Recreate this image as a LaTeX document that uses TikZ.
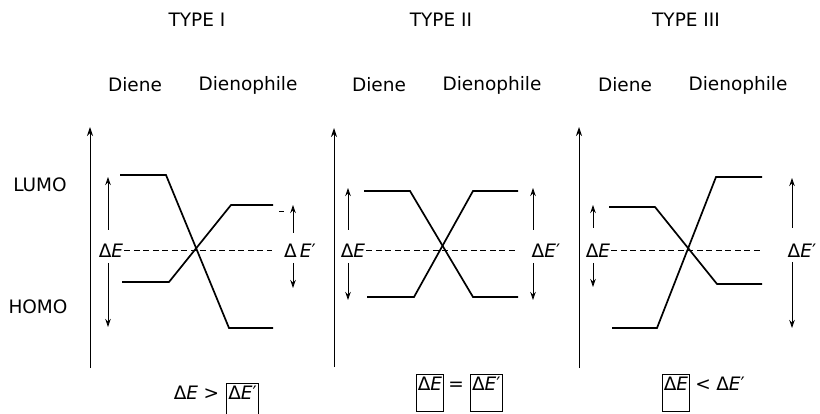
\documentclass[tikz,border=0pt]{standalone}
\usepackage{fontspec}
\setmainfont{DejaVu Sans}
\usetikzlibrary{positioning,arrows.meta}
\begin{document}
\begin{tikzpicture}[x=1pt,y=-1pt,every node/.style={font=\fontsize{18.5}{22}\selectfont,inner sep=1pt}]
            \tikzstyle{axis}=[line width=1pt,-{Stealth[length=9pt,width=6pt]}]
            \tikzstyle{level}=[line width=1.7pt]
            \tikzstyle{gap}=[line width=0.9pt,-{Stealth[length=8pt,width=5.5pt]}]
            \tikzstyle{mid}=[line width=1pt,dash pattern=on 6pt off 3.5pt]
            \tikzstyle{boxed}=[draw,line width=1pt,inner sep=1.5pt,text height=14.5pt,text depth=20pt]
            \useasboundingbox (0,0) rectangle (820,414);
            \clip (0,0) rectangle (820,414);

            % headings
            \node (t1) at (197,20) {TYPE I};
            \node (t2) at (441,20) {TYPE II};
            \node (t3) at (686,20) {TYPE III};
            \node (d1) at (135,85) {Diene};
            \node (p1) at (248,85) {Dienophile};
            \node (d2) at (379,85) {Diene};
            \node (p2) at (492,85) {Dienophile};
            \node (d3) at (625,85) {Diene};
            \node (p3) at (738,85) {Dienophile};
            \node (lumo) at (40,185) {LUMO};
            \node (homo) at (38,307) {HOMO};

            % type I
            \coordinate (o1) at (90,368);
            \coordinate (y1) at (90,127);
            \draw[axis] (o1) -- (y1);
            \coordinate (la1) at (120,175);
            \coordinate (lb1) at (166,175);
            \coordinate (lc1) at (229,328);
            \coordinate (ld1) at (273,328);
            \draw[level] (la1) -- (lb1) -- (lc1) -- (ld1);
            \coordinate (ha1) at (122,282);
            \coordinate (hb1) at (169,282);
            \coordinate (hc1) at (231,205);
            \coordinate (hd1) at (273,205);
            \draw[level] (ha1) -- (hb1) -- (hc1) -- (hd1);
            \node (e1) at (111,251) {Δ\textit{E}};
            \coordinate (m1) at (272,251);
            \draw[mid] (e1.east) -- (m1);
            \coordinate (eu1) at (108,230);
            \coordinate (et1) at (108,177);
            \coordinate (ed1) at (108,263);
            \coordinate (eb1) at (108,327);
            \draw[gap] (eu1) -- (et1);
            \draw[gap] (ed1) -- (eb1);
            \node (f1) at (300,251) {Δ\,\textit{E}′};
            \coordinate (fu1) at (293,233);
            \coordinate (ft1) at (293,205);
            \coordinate (fd1) at (293,263);
            \coordinate (fb1) at (293,288);
            \draw[gap] (fu1) -- (ft1);
            \draw[gap] (fd1) -- (fb1);
            \coordinate (k1) at (279,211);
            \coordinate (k2) at (284,211);
            \draw[line width=0.8pt] (k1) -- (k2);
            \node (r1a) at (186,393) {Δ\textit{E}};
            \node (r1b) [base right=3pt of r1a] {>};
            \node[boxed] (r1c) [base right=6pt of r1b] {Δ\textit{E}′};

            % type II
            \coordinate (o2) at (334,367);
            \coordinate (y2) at (334,128);
            \draw[axis] (o2) -- (y2);
            \coordinate (la2) at (364,191);
            \coordinate (lb2) at (410,191);
            \coordinate (lc2) at (473,297);
            \coordinate (ld2) at (518,297);
            \draw[level] (la2) -- (lb2) -- (lc2) -- (ld2);
            \coordinate (ha2) at (367,297);
            \coordinate (hb2) at (414,297);
            \coordinate (hc2) at (473,191);
            \coordinate (hd2) at (518,191);
            \draw[level] (ha2) -- (hb2) -- (hc2) -- (hd2);
            \node (e2) at (353,251) {Δ\textit{E}};
            \coordinate (m2) at (518,251);
            \draw[mid] (e2.east) -- (m2);
            \coordinate (eu2) at (348,230);
            \coordinate (et2) at (348,188);
            \coordinate (ed2) at (348,263);
            \coordinate (eb2) at (348,300);
            \draw[gap] (eu2) -- (et2);
            \draw[gap] (ed2) -- (eb2);
            \node (f2) at (546,251) {Δ\textit{E}′};
            \coordinate (fu2) at (533,230);
            \coordinate (ft2) at (533,188);
            \coordinate (fd2) at (533,263);
            \coordinate (fb2) at (533,300);
            \draw[gap] (fu2) -- (ft2);
            \draw[gap] (fd2) -- (fb2);
            \node[boxed] (r2a) at (430,393) {Δ\textit{E}};
            \node (r2b) [base right=3pt of r2a] {=};
            \node[boxed] (r2c) [base right=5pt of r2b] {Δ\textit{E}′};

            % type III
            \coordinate (o3) at (579,368);
            \coordinate (y3) at (579,127);
            \draw[axis] (o3) -- (y3);
            \coordinate (la3) at (609,207);
            \coordinate (lb3) at (655,207);
            \coordinate (lc3) at (717,284);
            \coordinate (ld3) at (762,284);
            \draw[level] (la3) -- (lb3) -- (lc3) -- (ld3);
            \coordinate (ha3) at (612,328);
            \coordinate (hb3) at (657,328);
            \coordinate (hc3) at (716,177);
            \coordinate (hd3) at (762,177);
            \draw[level] (ha3) -- (hb3) -- (hc3) -- (hd3);
            \node (e3) at (598,251) {Δ\textit{E}};
            \coordinate (m3) at (762,251);
            \draw[mid] (e3.east) -- (m3);
            \coordinate (eu3) at (593,228);
            \coordinate (et3) at (593,205);
            \coordinate (ed3) at (593,263);
            \coordinate (eb3) at (593,287);
            \draw[gap] (eu3) -- (et3);
            \draw[gap] (ed3) -- (eb3);
            \node (f3) at (802,251) {Δ\textit{E}′};
            \coordinate (fu3) at (792,228);
            \coordinate (ft3) at (792,178);
            \coordinate (fd3) at (792,262);
            \coordinate (fb3) at (792,328);
            \draw[gap] (fu3) -- (ft3);
            \draw[gap] (fd3) -- (fb3);
            \node[boxed] (r3a) at (676,393) {Δ\textit{E}};
            \node (r3b) [base right=4pt of r3a] {<};
            \node (r3c) [base right=3pt of r3b] {Δ\textit{E}′};
        \end{tikzpicture}
\end{document}
